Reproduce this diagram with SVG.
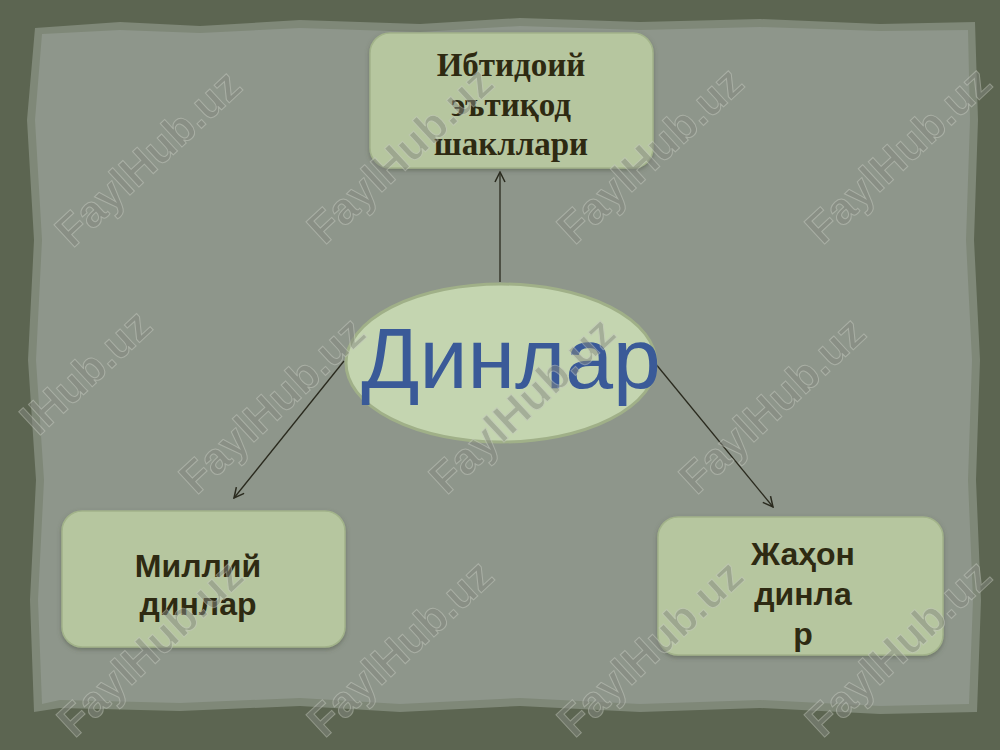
<svg xmlns="http://www.w3.org/2000/svg" width="1000" height="750" viewBox="0 0 1000 750">
<defs>
<style>
.box{fill:#b6c69f;stroke:#a2b38a;stroke-width:1.5}
.t1{font-family:"Liberation Serif","Times New Roman",serif;font-weight:bold;font-size:33px;fill:#2e2a12;text-anchor:middle}
.t2{font-family:"Liberation Sans",Arial,sans-serif;font-weight:bold;font-size:32px;fill:#2e2a12;text-anchor:middle}
.wm{font-family:"Liberation Sans",Arial,sans-serif;font-weight:bold;font-size:44px;fill:#858981;stroke:#c4c8be;stroke-width:1;text-anchor:middle;opacity:0.5}
.con{stroke:#2a2a1e;stroke-width:1.3;fill:none}
</style>
<marker id="arr" viewBox="0 0 12 12" refX="11" refY="6" markerWidth="12" markerHeight="12" markerUnits="userSpaceOnUse" orient="auto">
<path d="M1,1 L11,6 L1,11" fill="none" stroke="#2a2a1e" stroke-width="1.5"/>
</marker>
<filter id="sh" x="-10%" y="-10%" width="120%" height="130%">
<feDropShadow dx="0" dy="2" stdDeviation="2" flood-color="#4a5240" flood-opacity="0.5"/>
</filter>
</defs>
<rect x="0" y="0" width="1000" height="750" fill="#5c6551"/>
<path d="M35,28 L120,22 L200,26 L300,20 L420,24 L520,18 L640,22 L760,19 L880,24 L975,22 L978,120 L974,240 L980,360 L976,480 L981,600 L977,712 L880,714 L760,708 L640,712 L520,706 L400,712 L300,706 L180,711 L60,708 L34,712 L30,600 L36,480 L28,360 L34,240 L27,120 Z" fill="#7f8878"/>
<path d="M42,34 L120,30 L200,33 L300,28 L420,32 L520,26 L640,30 L760,27 L880,31 L968,30 L970,120 L966,240 L972,360 L968,480 L973,600 L969,704 L880,706 L760,700 L640,704 L520,698 L400,704 L300,698 L180,703 L60,700 L42,704 L38,600 L44,480 L36,360 L42,240 L35,120 Z" fill="#8e968b"/>
<g id="connectors">
<line class="con" x1="500" y1="282" x2="500" y2="172" marker-end="url(#arr)"/>
<line class="con" x1="344" y1="361" x2="234" y2="498" marker-end="url(#arr)"/>
<line class="con" x1="655" y1="363" x2="773" y2="507" marker-end="url(#arr)"/>
</g>
<g id="node-top">
<rect class="box" x="370" y="33" width="283" height="135" rx="20" filter="url(#sh)"/>
<text class="t1" x="511" y="76">Ибтидоий</text>
<text class="t1" x="511" y="116">эътиқод</text>
<text class="t1" x="511" y="155">шакллари</text>
</g>
<g id="node-center">
<ellipse cx="501" cy="363" rx="155" ry="79" fill="#c4d5b0" stroke="#a0b088" stroke-width="3"/>
<text x="511" y="388" font-family="'Liberation Sans',Arial,sans-serif" font-size="86" fill="#3a5a98" text-anchor="middle">Динлар</text>
</g>
<g id="node-left">
<rect class="box" x="62" y="511" width="283" height="136" rx="20" filter="url(#sh)"/>
<text class="t2" x="198" y="577">Миллий</text>
<text class="t2" x="198" y="615">динлар</text>
</g>
<g id="node-right">
<rect class="box" x="658" y="517" width="285" height="138" rx="20" filter="url(#sh)"/>
<text class="t2" x="803" y="565">Жаҳон</text>
<text class="t2" x="803" y="605">динла</text>
<text class="t2" x="803" y="645">р</text>
</g>
<g id="watermarks">
<text class="wm" transform="translate(148,158) rotate(-43)" dy="15">FaylHub.uz</text>
<text class="wm" transform="translate(400,155) rotate(-43)" dy="15">FaylHub.uz</text>
<text class="wm" transform="translate(650,155) rotate(-43)" dy="15">FaylHub.uz</text>
<text class="wm" transform="translate(898,155) rotate(-43)" dy="15">FaylHub.uz</text>
<text class="wm" transform="translate(86,372) rotate(-43)" dy="15">lHub.uz</text>
<text class="wm" transform="translate(272,405) rotate(-43)" dy="15">FaylHub.uz</text>
<text class="wm" transform="translate(522,405) rotate(-43)" dy="15">FaylHub.uz</text>
<text class="wm" transform="translate(772,405) rotate(-43)" dy="15">FaylHub.uz</text>
<text class="wm" transform="translate(150,648) rotate(-43)" dy="15">FaylHub.uz</text>
<text class="wm" transform="translate(400,648) rotate(-43)" dy="15">FaylHub.uz</text>
<text class="wm" transform="translate(650,648) rotate(-43)" dy="15">FaylHub.uz</text>
<text class="wm" transform="translate(898,648) rotate(-43)" dy="15">FaylHub.uz</text>
</g>
</svg>
